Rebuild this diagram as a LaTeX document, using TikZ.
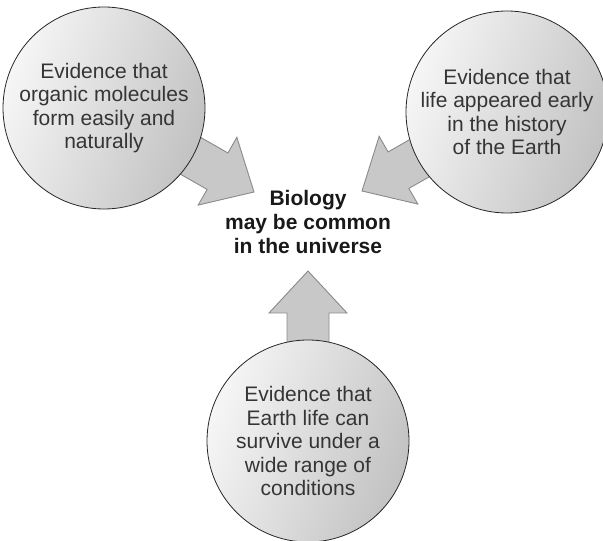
\documentclass[tikz,border=0pt]{standalone}
\usepackage{fontspec}
\setmainfont{Liberation Sans}
\newcommand{\bigarrow}[2]{%
\begin{scope}[shift={(#1)}, rotate=#2]
\draw[blockarrow] (0,0) -- (-42,39) -- (-42,21) -- (-140,21) -- (-140,-21) -- (-42,-21) -- (-42,-39) -- cycle;
\end{scope}}
\begin{document}
\begin{tikzpicture}[x=1pt, y=1pt]
\definecolor{arrowfill}{HTML}{C8C8C8}
\definecolor{arrowline}{HTML}{8A8A8A}
\definecolor{ballhi}{HTML}{F6F6F6}
\definecolor{ballmid}{HTML}{EAEAEA}
\definecolor{balllo}{HTML}{C2C2C2}
\definecolor{ink}{HTML}{353535}
\tikzset{
  blockarrow/.style={fill=arrowfill, draw=arrowline, line width=0.9pt, line join=miter},
  ball/.style={circle, minimum size=202pt, inner sep=0pt, draw=black!85, line width=0.8pt,
    left color=ballhi, middle color=ballmid, right color=balllo, shading angle=70, text=ink, align=center,
    font=\fontsize{21}{23.5}\selectfont},
}
\useasboundingbox (0,0) rectangle (603,541);
\coordinate (organicc) at (104,433);
\coordinate (earlyc) at (507,429);
\coordinate (survivec) at (308,100);
\coordinate (tipleft) at (254,349);
\coordinate (tipright) at (362,350);
\coordinate (tipbottom) at (308,270);
\bigarrow{tipleft}{-29.7}
\bigarrow{tipright}{209.7}
\bigarrow{tipbottom}{90}
\node[ball] (organic) at (organicc) {Evidence that\\organic molecules\\form easily and\\naturally};
\node[ball] (early) at (earlyc) {Evidence that\\life appeared early\\in the history\\of the Earth};
\node[ball] (survive) at (survivec) {Evidence that\\Earth life can\\survive under a\\wide range of\\conditions};
\node[align=center, text=black!90, font=\bfseries\fontsize{21}{24}\selectfont] (biology) at (308,319) {Biology\\may be common\\in the universe};
\end{tikzpicture}
\end{document}
